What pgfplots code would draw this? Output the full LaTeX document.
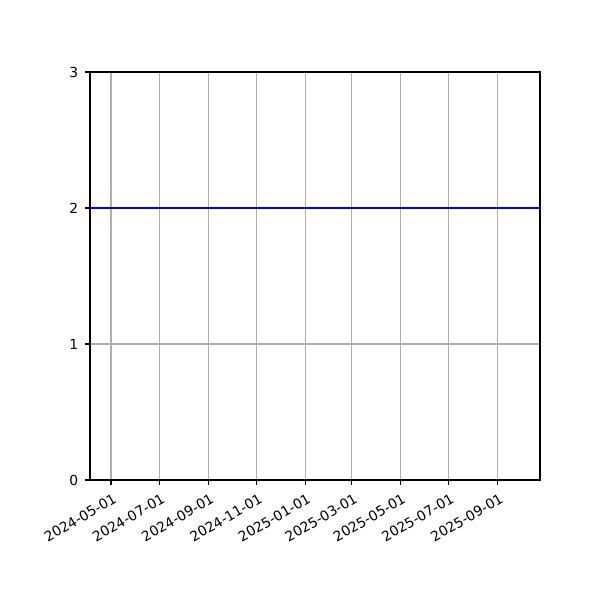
\documentclass[border=0pt]{standalone}
\usepackage{fontspec}
\setmainfont{DejaVu Sans}
\usepackage{pgfplots}
\pgfplotsset{compat=1.18}
\definecolor{gridgray}{HTML}{B0B0B0}
\begin{document}
\fontsize{10}{12}\selectfont
\begin{tikzpicture}
\path[use as bounding box] (0,0) rectangle (432bp,432bp);
\begin{axis}[
    at={(64.8bp,86.4bp)}, anchor=south west,
    scale only axis,
    width=324bp, height=293.76bp,
    xmin=94.5, xmax=662.5,
    ymin=0, ymax=3,
    % days counted from 2024-01-01
    xtick={121,182,244,305,366,425,486,547,609},
    xticklabels={2024-05-01,2024-07-01,2024-09-01,2024-11-01,2025-01-01,2025-03-01,2025-05-01,2025-07-01,2025-09-01},
    ytick={0,1,2,3},
    xtick pos=bottom, ytick pos=left,
    x tick label style={rotate=30, anchor=north east, inner sep=0pt, yshift=-5.5bp, xshift=-2bp},
    y tick label style={inner sep=0pt, xshift=-4.9bp},
    /pgf/number format/assume math mode=true,
    tick align=outside,
    major tick length=3.5bp,
    tick style={black, line width=0.8bp},
    axis line style={line width=0.8bp},
    grid=major,
    major grid style={gridgray, line width=0.8bp},
]
\addplot[blue, line width=1.5bp] coordinates {(94.5,2) (662.5,2)};
\end{axis}
\end{tikzpicture}
\end{document}
